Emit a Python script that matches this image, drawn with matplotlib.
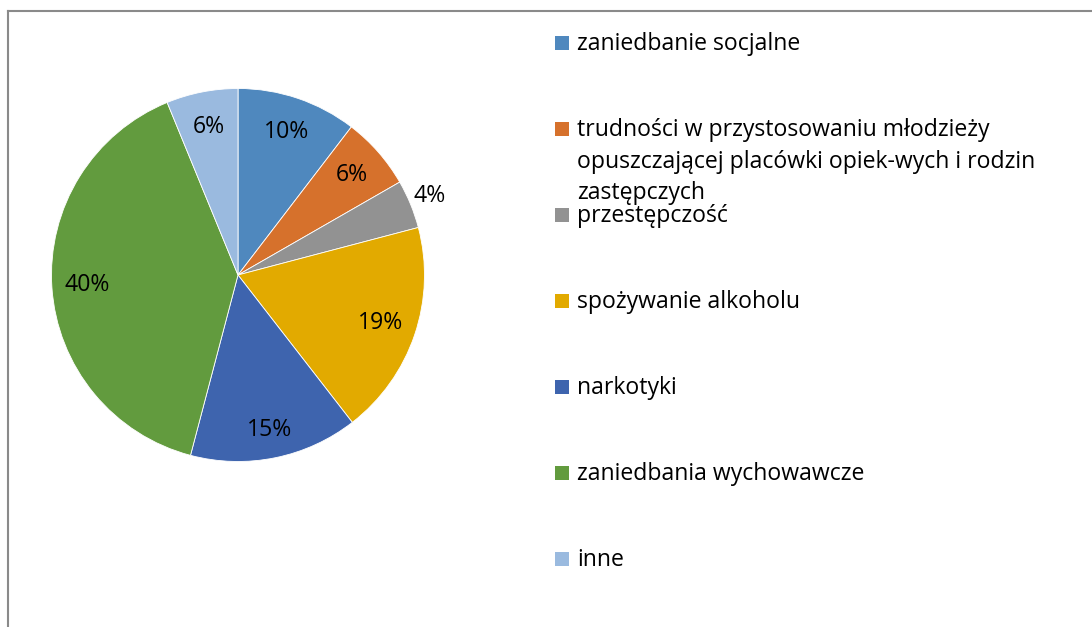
import matplotlib
matplotlib.use("Agg")
import matplotlib.pyplot as plt
from matplotlib.patches import Rectangle
from matplotlib.lines import Line2D

categories = [
    "zaniedbanie socjalne",
    "trudności w przystosowaniu młodzieży\nopuszczającej placówki opiek-wych i rodzin\nzastępczych",
    "przestępczość",
    "spożywanie alkoholu",
    "narkotyki",
    "zaniedbania wychowawcze",
    "inne",
]
values = [10.4, 6.3, 4.2, 18.6, 14.6, 39.7, 6.2]
colors = ["#4F88BE", "#D6712C", "#929292", "#E2AA00", "#3E64AE", "#629B3E", "#9ABADF"]

W, H = 1092, 627
plt.rcParams['font.family'] = ['Open Sans', 'DejaVu Sans']
fig = plt.figure(figsize=(W / 100, H / 100), dpi=100)

# border (partially visible frame)
fig.add_artist(Line2D([8 / W, 8 / W], [0, 1 - 11 / H], color="#8A8A8A", lw=1.5))
fig.add_artist(Line2D([8 / W, 1], [1 - 11 / H, 1 - 11 / H], color="#8A8A8A", lw=1.5))

cx, cy, r = 238, 275, 186.5
ax = fig.add_axes([(cx - r) / W, (H - cy - r) / H, 2 * r / W, 2 * r / H])

pd = 0.81
wedges, texts, autotexts = ax.pie(
    values, colors=colors, startangle=90, counterclock=False, radius=1,
    autopct="%1.0f%%", pctdistance=pd,
    wedgeprops=dict(edgecolor="white", linewidth=0.6),
    textprops=dict(fontsize=16.6, color="black"),
)
ax.set_xlim(-1, 1)
ax.set_ylim(-1, 1)
ax.set_aspect("equal")
ax.axis("off")
# label distance tweaks (small slice label outside)
for idx, d in [(2, 1.11), (4, 0.85)]:
    px, py = autotexts[idx].get_position()
    autotexts[idx].set_position((px / pd * d, py / pd * d))

# legend
sq = 14
x_sq = 555
x_txt = 577
y0, dy = 43, 86
line_h = 31.5
for i, (lab, col) in enumerate(zip(categories, colors)):
    yc = y0 + i * dy
    fig.add_artist(Rectangle((x_sq / W, 1 - (yc + sq / 2) / H), sq / W, sq / H,
                             facecolor=col, edgecolor="none", transform=fig.transFigure))
    for j, line in enumerate(lab.split("\n")):
        yb = yc + 7.5 + j * line_h
        fig.text(x_txt / W, 1 - yb / H, line, fontsize=16.6, color="black",
                 ha="left", va="baseline")

fig.savefig("out.png", dpi=100)
